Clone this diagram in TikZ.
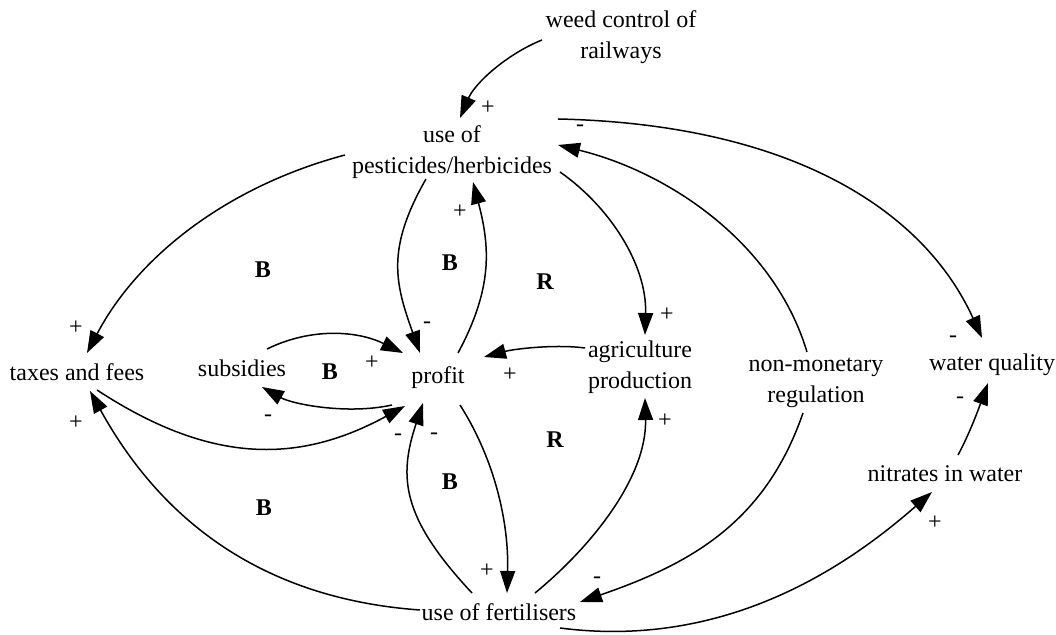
\documentclass[tikz,border=0pt]{standalone}
\usepackage{fontspec}
\setmainfont{Liberation Serif}
\usepackage{tikz}
\usetikzlibrary{arrows.meta,calc}
\tikzstyle{factor}=[align=center,inner sep=0pt]
\tikzstyle{cause}=[line width=0.75pt,-{Triangle[length=11pt,width=7.5pt]}]
\tikzstyle{polarity}=[inner sep=0pt]
\tikzstyle{looplbl}=[inner sep=0pt,font=\fontsize{12}{15.5}\selectfont\bfseries]

\begin{document}
\begin{tikzpicture}[x=0.5pt,y=-0.5pt,font=\fontsize{12}{15.5}\selectfont]
\useasboundingbox (0,0) rectangle (1056,635);

% factors
\node [factor] (weed)   at (621,37)  {weed control of\\railways};
\node [factor] (pest)   at (452,152) {use of\\pesticides/herbicides};
\node [factor] (taxes)  at (77,372)  {taxes and fees};
\node [factor] (subs)   at (242,368) {subsidies};
\node [factor] (profit) at (438,378) {profit};
\node [factor] (agri)   at (640,367) {agriculture\\production};
\node [factor] (nonmon) at (816,383) {non-monetary\\regulation};
\node [factor] (water)  at (992,365) {water quality};
\node [factor] (nitr)   at (945,474) {nitrates in water};
\node [factor] (fert)   at (499,612) {use of fertilisers};

% causal links
\draw [cause] ($(weed)+(-79,3)$) .. controls +(-35,14) and +(15,-35) .. ($(pest)+(8,-34)$);
\draw [cause] ($(pest)+(106,-33)$) .. controls +(230,5) and +(-59,-130) .. ($(water)+(-10,-27)$);
\draw [cause] ($(nonmon)+(-9,-31)$) .. controls +(-33,-110) and +(110,27) .. ($(pest)+(106,-7)$);
\draw [cause] ($(nonmon)+(-13,30)$) .. controls +(-38,110) and +(110,-38) .. ($(fert)+(81,-10)$);
\draw [cause] ($(pest)+(-107,3)$) .. controls +(-120,32) and +(50,-95) .. ($(taxes)+(10,-19)$);
\draw [cause] ($(fert)+(-79,-2)$) .. controls +(-140,-10) and +(80,145) .. ($(taxes)+(13,19)$);
\draw [cause] ($(taxes)+(20,18)$) .. controls +(110,72) and +(-110,60) .. ($(profit)+(-33,28)$);
\draw [cause] ($(profit)+(-46,27)$) .. controls +(-45,10) and +(30,17) .. ($(subs)+(20,19)$);
\draw [cause] ($(subs)+(25,-19)$) .. controls +(45,-22) and +(-45,-22) .. ($(profit)+(-35,-25)$);
\draw [cause] ($(pest)+(-26,27)$) .. controls +(-40,70) and +(-25,-70) .. ($(profit)+(-18,-25)$);
\draw [cause] ($(profit)+(20,-25)$) .. controls +(35,-65) and +(17,65) .. ($(pest)+(21,30)$);
\draw [cause] ($(pest)+(108,20)$) .. controls +(50,35) and +(2,-70) .. ($(agri)+(5,-32)$);
\draw [cause] ($(agri)+(-55,-19)$) .. controls +(-30,-4) and +(30,-8) .. ($(profit)+(46,-21)$);
\draw [cause] ($(profit)+(22,27)$) .. controls +(35,55) and +(2,-70) .. ($(fert)+(8,-19)$);
\draw [cause] ($(fert)+(-27,-19)$) .. controls +(-70,-75) and +(-25,75) .. ($(profit)+(-15,25)$);
\draw [cause] ($(fert)+(36,-19)$) .. controls +(55,-45) and +(2,80) .. ($(agri)+(5,31)$);
\draw [cause] ($(fert)+(61,16)$) .. controls +(170,22) and +(-80,70) .. ($(nitr)+(-13,18)$);
\draw [cause] ($(nitr)+(13,-19)$) .. controls +(12,-22) and +(-8,22) .. ($(water)+(-4,18)$);

% polarities
\foreach \p/\s [count=\i] in {{(488,108)}/+, {(953,339)}/-, {(580,128)}/-, {(597,580)}/-,
  {(76,328)}/+, {(76,423)}/+, {(398,437)}/-, {(268,418)}/-, {(372,363)}/+,
  {(427,325)}/-, {(460,212)}/+, {(667,315)}/+, {(510,375)}/+, {(487,571)}/+,
  {(434,436)}/-, {(665,421)}/+, {(935,523)}/+, {(960,400)}/-}
  \node [polarity] (sg\i) at \p {\s};

% loops
\node [looplbl] (b1) at (263,270) {B};
\node [looplbl] (b2) at (450,263) {B};
\node [looplbl] (b3) at (330,372) {B};
\node [looplbl] (b4) at (450,482) {B};
\node [looplbl] (b5) at (264,508) {B};
\node [looplbl] (r1) at (545,282) {R};
\node [looplbl] (r2) at (555,440) {R};
\end{tikzpicture}
\end{document}
